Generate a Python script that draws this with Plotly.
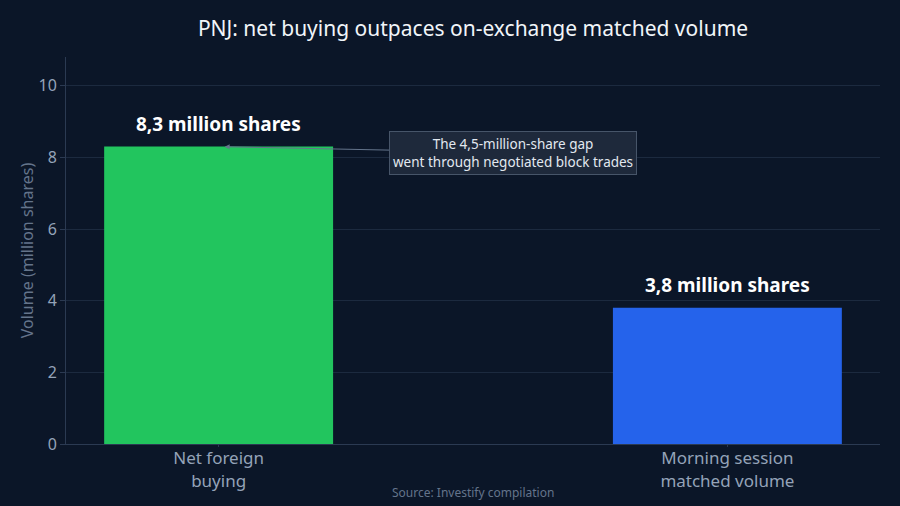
import plotly.graph_objects as go

categories = ["Net foreign<br>buying", "Morning session<br>matched volume"]
volumes = [8.3, 3.8]
bar_labels = ["8,3 million shares", "3,8 million shares"]
bar_colors = ["#22c55e", "#2563eb"]

bg = "#0b1628"
grid = "#1c2a3f"
axis_col = "#2b3a52"
tick_col = "#94a3b8"

fig = go.Figure()
fig.add_trace(go.Bar(
    x=categories,
    y=volumes,
    marker=dict(color=bar_colors, line=dict(width=0)),
    width=0.45,
))

# value labels above the bars
for cat, val, label in zip(categories, volumes, bar_labels):
    fig.add_annotation(
        x=cat, y=val, xref="x", yref="y", showarrow=False,
        text="<b>" + label + "</b>", yanchor="bottom", yshift=8,
        font=dict(size=19, color="#ffffff", family="Noto Sans"),
    )

fig.add_annotation(
    x=categories[0], y=volumes[0],
    ax=0.578, ay=8.13, axref="x", ayref="y", xref="x", yref="y",
    text="The 4,5-million-share gap<br>went through negotiated block trades",
    showarrow=True, arrowhead=2, arrowsize=1, arrowwidth=1, arrowcolor="#64748b",
    font=dict(size=13.5, color="#e2e8f0", family="Noto Sans"),
    bgcolor="#1e293b", bordercolor="#475569", borderwidth=1, borderpad=3,
    standoff=6,
)

fig.add_annotation(
    x=0.5, y=0, xref="paper", yref="paper", showarrow=False,
    yanchor="middle", yshift=-48,
    text="Source: Investify compilation",
    font=dict(size=12, color="#64748b", family="Noto Sans"),
)

fig.update_layout(
    width=900, height=506,
    paper_bgcolor=bg, plot_bgcolor=bg,
    font=dict(family="Noto Sans", color=tick_col),
    title=dict(text="PNJ: net buying outpaces on-exchange matched volume",
               x=0.5, xref="paper", xanchor="center", y=0.943, yanchor="middle",
               font=dict(size=21, color="#f1f5f9")),
    margin=dict(l=66, r=20, t=57, b=62),
    showlegend=False,
    bargap=0.55,
)
fig.update_xaxes(
    range=[-0.3, 1.3],
    tickfont=dict(size=17, color=tick_col),
    showline=True, linecolor=axis_col, linewidth=1,
    ticks="outside", tickcolor=axis_col, ticklen=2,
    ticklabelstandoff=-3,
    showgrid=False,
)
fig.update_yaxes(
    range=[0, 10.8], dtick=2,
    title=dict(text="Volume (million shares)", font=dict(size=16, color="#64748b"), standoff=0),
    tickfont=dict(size=16, color=tick_col),
    gridcolor=grid, gridwidth=1,
    showline=True, linecolor=axis_col, linewidth=1,
    ticks="outside", tickcolor=axis_col, ticklen=5,
    zeroline=False,
)

fig.write_html(
    "out.html",
    config={"displayModeBar": False},
    post_script="document.body.style.margin='0';document.body.style.background='" + bg + "';",
)
